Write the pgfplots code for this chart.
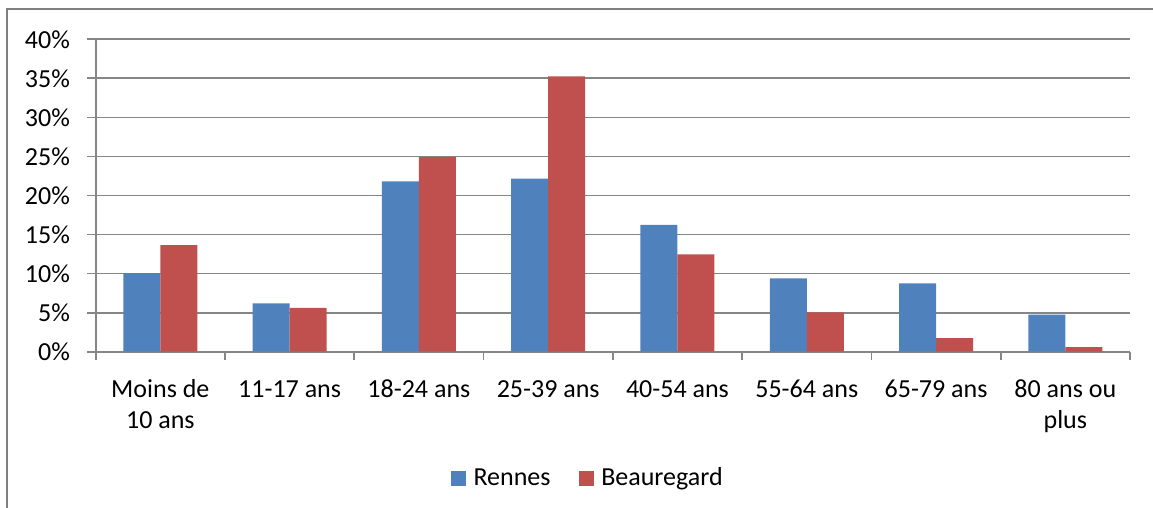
\documentclass[border=0pt]{standalone}
\usepackage{fontspec}
\setmainfont{Carlito}
\usepackage{pgfplots}
\pgfplotsset{compat=1.18}
\definecolor{rblue}{HTML}{4F81BD}
\definecolor{bred}{HTML}{C0504D}
\definecolor{gridc}{HTML}{868686}
\definecolor{framec}{HTML}{7F7F7F}
\newcommand{\lblfont}{\fontsize{13}{15.6}\selectfont}
\newcommand{\st}{\rule{0pt}{9.5pt}}
\begin{document}
\begin{tikzpicture}
\useasboundingbox (-47.85pt,-78.15pt) rectangle (528.65pt,175.85pt);
\draw[framec, line width=1pt] (-44.35pt,-80pt) -- (-44.35pt,171.1pt) -- (530pt,171.1pt);
\begin{axis}[
  at={(0pt,0pt)}, anchor=south west,
  scale only axis, width=517.15pt, height=156.2pt,
  ybar=0pt, bar width=18.5pt,
  xmin=-0.5, xmax=7.5, ymin=0, ymax=40,
  axis x line*=bottom, axis y line*=left,
  axis line style={gridc, line width=0.9pt},
  tick align=outside,
  xtick={0,1,2,3,4,5,6,7},
  xticklabels={{\st Moins de\\10 ans},{\st 11-17 ans},{\st 18-24 ans},{\st 25-39 ans},{\st 40-54 ans},{\st 55-64 ans},{\st 65-79 ans},{\st 80 ans ou\\plus}},
  major x tick style={draw=none},
  minor xtick={-0.5,0.5,1.5,2.5,3.5,4.5,5.5,6.5,7.5},
  minor x tick style={gridc, line width=0.9pt},
  minor tick length=4pt,
  major tick length=4.3pt,
  ytick={0,5,10,15,20,25,30,35,40},
  yticklabels={0\%,5\%,10\%,15\%,20\%,25\%,30\%,35\%,40\%},
  y tick style={gridc, line width=0.9pt},
  ymajorgrids, grid style={gridc, line width=0.9pt},
  tick label style={font=\lblfont},
  xticklabel style={align=center, anchor=north, inner sep=0pt, yshift=-8.9pt},
  yticklabel style={anchor=east, inner sep=0pt, xshift=-8.4pt},
  legend columns=2,
  legend style={draw=none, fill=none, font=\lblfont, at={(0.343,-0.405)}, anchor=west,
    inner sep=0pt, nodes={inner sep=0pt},
    /tikz/every odd column/.append style={column sep=3.85pt},
    /tikz/every even column/.append style={column sep=14pt}},
]
\addplot[fill=rblue, draw=none, legend image code/.code={\fill[rblue] (0pt,-3.75pt) rectangle (7.5pt,3.75pt);}]
  coordinates {(0,10.05) (1,6.2) (2,21.8) (3,22.15) (4,16.25) (5,9.4) (6,8.76) (7,4.74)};
\addplot[fill=bred, draw=none, legend image code/.code={\fill[bred] (0pt,-3.75pt) rectangle (7.5pt,3.75pt);}]
  coordinates {(0,13.66) (1,5.6) (2,24.9) (3,35.26) (4,12.47) (5,5.04) (6,1.75) (7,0.6)};
\legend{Rennes,Beauregard}
\end{axis}
\end{tikzpicture}
\end{document}
